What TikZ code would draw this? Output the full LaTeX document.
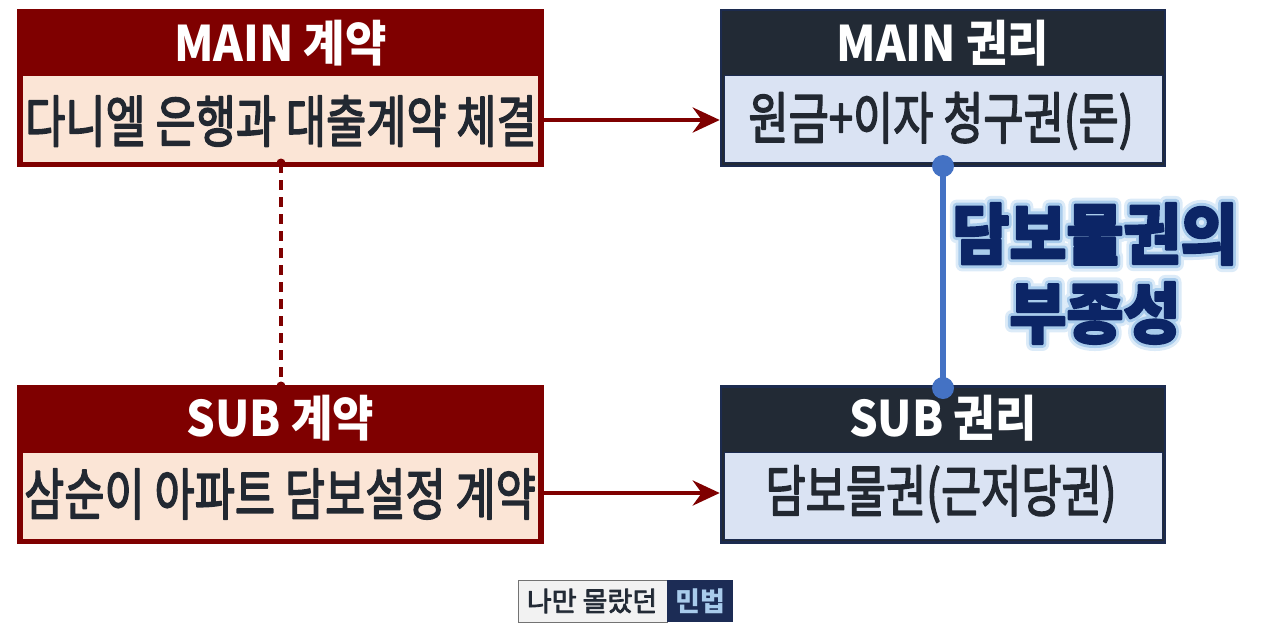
\documentclass[tikz,border=0pt]{standalone}
\usepackage{fontspec}
\setmainfont{Noto Sans CJK KR}
\usetikzlibrary{arrows.meta}
\definecolor{dred}{HTML}{7F0000}
\definecolor{peach}{HTML}{FBE5D6}
\definecolor{navyhead}{HTML}{222A35}
\definecolor{navyline}{HTML}{1C2B4F}
\definecolor{lblue}{HTML}{DAE3F3}
\definecolor{bodytxt}{HTML}{222831}
\definecolor{glowtxt}{HTML}{0C2566}
\definecolor{glow}{HTML}{A9CCEC}
\definecolor{glowout}{HTML}{DCEBF8}
\definecolor{linkblue}{HTML}{4472C4}
\definecolor{footgray}{HTML}{F2F2F2}
\definecolor{footnavy}{HTML}{1C2C55}
\newcommand\strk[2]{\special{pdf:literal direct 2 Tr #1 w 1 j}#2\special{pdf:literal direct 0 Tr 0 w}}
\newcommand\headtxt[1]{\scalebox{0.92}[1]{\fontsize{49}{56}\selectfont\bfseries #1}}
\newcommand\bodytext[1]{\scalebox{0.78}[1]{\fontsize{56}{62}\selectfont\strk{1.6}{#1}}}
\newcommand\glowtext[1]{\scalebox{0.94}[1]{\fontsize{66}{70}\selectfont\bfseries #1}}
\tikzset{
  outerbox/.style={draw=#1, line width=2.5pt, fill=#1, minimum width=525pt, minimum height=156pt, inner sep=0pt},
  innerbox/.style={draw=#1, line width=1pt, minimum height=87pt, inner sep=0pt},
  headlabel/.style={text=white, inner sep=0pt},
  bodylabel/.style={text=bodytxt, inner sep=0pt},
  flowarrow/.style={draw=dred, line width=4.5pt, -{Stealth[length=27pt,width=25pt,inset=9pt]}},
  dashlink/.style={draw=dred, line width=3.2pt, dash pattern=on 10pt off 7pt},
  bluelink/.style={draw=linkblue, line width=5.5pt},
  enddot/.style={circle, fill=#1, inner sep=0pt},
}
\begin{document}
\begin{tikzpicture}[x=1pt,y=-1pt]
\useasboundingbox (0,0) rectangle (1280,624);
% left top
\node[outerbox=dred] (mc) at (280.5,88) {};
\node[innerbox=dred, fill=peach, minimum width=516pt] (mcb) at (280.5,118.5) {};
\node[headlabel] (mch) at (280.5,43) {\headtxt{MAIN 계약}};
\node[bodylabel] (mct) at (281,121) {\bodytext{다니엘 은행과 대출계약 체결}};
% left bottom
\node[outerbox=dred] (sc) at (280.5,464.5) {};
\node[innerbox=dred, fill=peach, minimum width=516pt] (scb) at (280.5,495.5) {};
\node[headlabel] (sch) at (280.5,418) {\headtxt{SUB 계약}};
\node[bodylabel] (sct) at (280,494) {\bodytext{삼순이 아파트 담보설정 계약}};
% right top
\node[outerbox=navyhead, draw=navyline, minimum width=444pt] (mr) at (943,88) {};
\node[innerbox=navyline, fill=lblue, minimum width=438pt] (mrb) at (943,118.5) {};
\node[headlabel] (mrh) at (943,43) {\headtxt{MAIN 권리}};
\node[bodylabel] (mrt) at (941,121) {\bodytext{원금+이자 청구권(돈)}};
% right bottom
\node[outerbox=navyhead, draw=navyline, minimum width=444pt] (sr) at (943,464.5) {};
\node[innerbox=navyline, fill=lblue, minimum width=438pt] (srb) at (943,495.5) {};
\node[headlabel] (srh) at (943,418) {\headtxt{SUB 권리}};
\node[bodylabel] (srt) at (941,494) {\bodytext{담보물권(근저당권)}};
% arrows
\coordinate (a1s) at (543,120);
\coordinate (a2s) at (543,493);
\draw[flowarrow] (a1s) -- (a1s -| mr.west);
\draw[flowarrow] (a2s) -- (a2s -| sr.west);
% dashed link
\coordinate (d1) at (281,163);
\coordinate (d2) at (281,386);
\draw[dashlink] (d1) -- (d2);
\node[enddot=dred, minimum size=9pt] (d1dot) at (d1) {};
\node[enddot=dred, minimum size=9pt] (d2dot) at (d2) {};
% blue link
\node[enddot=linkblue, minimum size=22pt] (b1) at (943,166) {};
\node[enddot=linkblue, minimum size=22pt] (b2) at (943,388) {};
\draw[bluelink] (b1.center) -- (b2.center);
% glow label
\foreach \yy/\tt in {234/담보물권의, 313/부종성}{
  \node[inner sep=0pt, text=glowout] at (1095,\yy) {\glowtext{\strk{14}{\tt}}};
  \node[inner sep=0pt, text=glow] at (1095,\yy) {\glowtext{\strk{8}{\tt}}};
  \node[inner sep=0pt, text=glowtxt] at (1095,\yy) {\glowtext{\strk{2.2}{\tt}}};
}
% footer
\node[draw=black!55, line width=0.8pt, fill=footgray, minimum width=149pt, minimum height=42pt, inner sep=0pt] (fl) at (592.5,601) {};
\node[fill=footnavy, minimum width=66pt, minimum height=42pt, inner sep=0pt] (fr) at (700,601) {};
\node[text=navyhead, inner sep=0pt] (flt) at (592,601) {\fontsize{27}{30}\selectfont\strk{0.8}{나만 몰랐던}};
\node[text=glow, inner sep=0pt] (frt) at (fr.center) {\fontsize{27}{30}\selectfont\bfseries 민법};
\end{tikzpicture}
\end{document}
